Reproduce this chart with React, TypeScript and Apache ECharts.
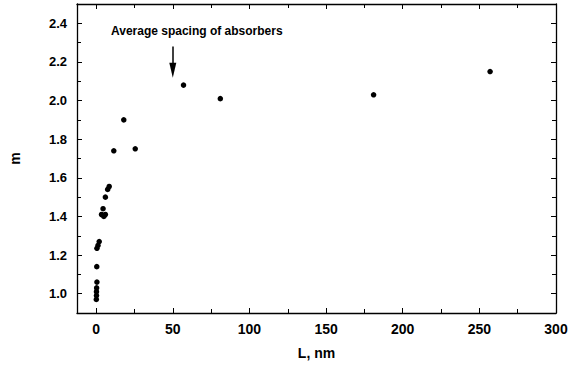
import React, { useEffect, useRef } from "react";
import * as echarts from "echarts";

const L_VALUES = [0.1, 0.2, 0.2, 0.3, 0.5, 0.4, 0.5, 1.2, 2.0, 3.5, 5.0, 6.0, 4.5, 6.0, 7.5, 8.5, 11.5, 18, 25.5, 57, 81, 181, 257];
const M_VALUES = [0.97, 0.99, 1.01, 1.03, 1.06, 1.14, 1.235, 1.25, 1.27, 1.41, 1.40, 1.41, 1.44, 1.50, 1.54, 1.555, 1.74, 1.90, 1.75, 2.08, 2.01, 2.03, 2.15];

const X_MIN = -12.5;
const X_MAX = 300;
const Y_MIN = 0.9;
const Y_MAX = 2.5;

const ARROW_L = 50;
const ARROW_TOP = 2.28;
const ARROW_END = 2.157;
const NOTE = "Average spacing of absorbers";
const X_NAME = "L, nm";
const Y_NAME = "m";

const FONT = '"Liberation Sans", Arial, Helvetica, sans-serif';

export default function App() {
  const ref = useRef<HTMLDivElement>(null);
  useEffect(() => {
    if (!ref.current) return;
    document.body.style.margin = "0";
    const chart = echarts.init(ref.current, undefined, { renderer: "svg" });
    const data = L_VALUES.map((l, i) => [l, M_VALUES[i]]);
    const lineStyle = { color: "#000", width: 1.3 };
    const tick = { show: true, inside: true, length: 5, lineStyle: { color: "#000", width: 1 } };
    const minor = { show: true, splitNumber: 2, length: 4, lineStyle: { color: "#000", width: 1 } };
    const xBase = {
      type: "value" as const,
      min: X_MIN,
      max: X_MAX,
      splitNumber: 6,
      axisLine: { show: true, onZero: false, lineStyle },
      axisTick: tick,
      minorTick: minor,
      splitLine: { show: false },
    };
    const yBase = {
      type: "value" as const,
      min: Y_MIN,
      max: Y_MAX,
      splitNumber: 8,
      axisLine: { show: true, onZero: false, lineStyle },
      axisTick: tick,
      minorTick: minor,
      splitLine: { show: false },
    };
    chart.setOption({
      animation: false,
      backgroundColor: "#fff",
      grid: { left: 75, top: 4, right: 29, bottom: 51, containLabel: false },
      xAxis: [
        {
          ...xBase,
          position: "bottom",
          name: X_NAME,
          nameLocation: "middle",
          nameGap: 33,
          nameTextStyle: { color: "#000", fontFamily: FONT, fontWeight: "bold", fontSize: 14 },
          axisLabel: {
            color: "#000",
            fontFamily: FONT,
            fontWeight: "bold",
            fontSize: 14,
            margin: 9,
            showMinLabel: false,
            formatter: (v: number) => String(v),
          },
        },
        { ...xBase, position: "top", axisLabel: { show: false } },
      ],
      yAxis: [
        {
          ...yBase,
          position: "left",
          name: Y_NAME,
          nameLocation: "middle",
          nameGap: 55,
          nameTextStyle: { color: "#000", fontFamily: FONT, fontWeight: "bold", fontSize: 14 },
          axisLabel: {
            color: "#000",
            fontFamily: FONT,
            fontWeight: "bold",
            fontSize: 13,
            margin: 10,
            showMinLabel: false,
            showMaxLabel: false,
            formatter: (v: number) => v.toFixed(1),
          },
        },
        { ...yBase, position: "right", axisLabel: { show: false } },
      ],
      graphic: [
        {
          type: "text",
          left: 111,
          top: 25,
          style: {
            text: NOTE,
            fill: "#000",
            font: `bold 12px ${FONT}`,
          },
        },
      ],
      series: [
        {
          type: "scatter",
          data,
          symbol: "circle",
          symbolSize: 5.5,
          itemStyle: { color: "#000", opacity: 1 },
          markLine: {
            silent: true,
            animation: false,
            symbol: ["none", "triangle"],
            symbolSize: 12,
            label: { show: false },
            lineStyle: { color: "#000", width: 1.5, type: "solid", opacity: 1 },
            data: [
              [
                { coord: [ARROW_L, ARROW_TOP], symbol: "none" },
                { coord: [ARROW_L, ARROW_END], symbol: "triangle", symbolSize: [7, 15] },
              ],
            ],
          },
        },
      ],
    });
    return () => chart.dispose();
  }, []);
  return <div ref={ref} style={{ width: 585, height: 365 }} />;
}
